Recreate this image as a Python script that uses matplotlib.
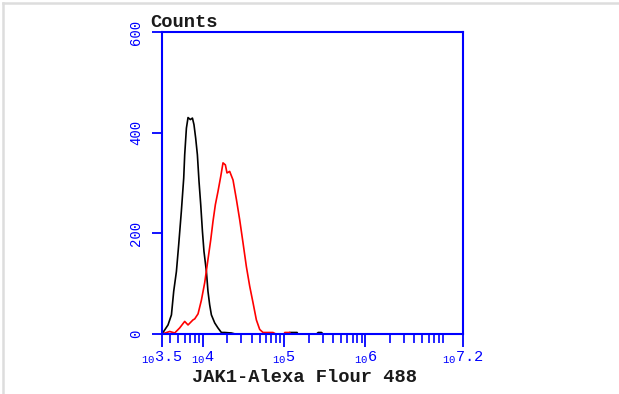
import matplotlib
matplotlib.use("Agg")
import matplotlib.pyplot as plt
from matplotlib.ticker import FixedLocator, NullFormatter
import numpy as np

plt.rcParams['font.family'] = ['Liberation Mono', 'DejaVu Sans Mono']
plt.rcParams['mathtext.fontset'] = 'custom'
plt.rcParams['mathtext.rm'] = 'Liberation Mono'
plt.rcParams['mathtext.it'] = 'Liberation Mono'
plt.rcParams['mathtext.bf'] = 'Liberation Mono:bold'

# log10 fluorescence intensity and counts
control_log = [3.50, 3.574, 3.616, 3.644, 3.677, 3.705, 3.738, 3.767, 3.779, 3.800,
               3.820, 3.849, 3.874, 3.893, 3.914, 3.935, 3.955, 3.976, 3.997, 4.016,
               4.046, 4.065, 4.086, 4.107, 4.148, 4.188, 4.230, 4.271, 4.353, 4.40,
               5.00, 5.06, 5.07, 5.16, 5.17, 5.40, 5.42, 5.46, 5.48, 7.2]
control_cnt = [0, 18, 38, 85, 124, 177, 244, 310, 356, 409,
               430, 426, 429, 416, 389, 356, 303, 257, 204, 164,
               124, 85, 58, 38, 22, 12, 3, 3, 2, 0,
               0, 0, 3, 3, 0, 0, 3, 3, 0, 0]

jak1_log = [3.50, 3.595, 3.656, 3.717, 3.779, 3.820, 3.881, 3.902, 3.943, 3.984,
            4.025, 4.065, 4.099, 4.127, 4.156, 4.188, 4.222, 4.250, 4.279, 4.299,
            4.332, 4.373, 4.415, 4.455, 4.496, 4.537, 4.578, 4.619, 4.660, 4.701,
            4.742, 4.864, 4.90, 5.00, 5.01, 5.07, 5.08, 7.2]
jak1_cnt = [0, 5, 2, 12, 25, 18, 28, 30, 40, 67,
            102, 148, 187, 224, 257, 283, 313, 340, 336, 320,
            323, 306, 267, 227, 181, 134, 95, 62, 28, 9,
            3, 3, 0, 0, 3, 3, 0, 0]

x_major = [3.5, 4, 5, 6, 7.2]
x_major_labels = ['3.5', '4', '5', '6', '7.2']
y_ticks = [0, 200, 400, 600]

blue = '#0000ff'
text_col = '#1a1a1a'

fig = plt.figure(figsize=(6.19, 3.94), dpi=100)
ax = fig.add_axes([162/619, 60/394, 301/619, 302/394])

ax.plot(10**np.array(control_log), control_cnt, color='black', lw=1.2, zorder=2)
ax.plot(10**np.array(jak1_log), jak1_cnt, color='red', lw=1.2, zorder=2.1)

ax.set_xscale('log')
ax.set_xlim(10**3.5, 10**7.2)
ax.set_ylim(0, 600)

for s in ax.spines.values():
    s.set_color(blue)
    s.set_linewidth(1.5)
    s.set_zorder(3)

ax.xaxis.set_major_locator(FixedLocator([10**v for v in x_major]))
ax.set_xticklabels([r'$\mathrm{{}_{10}%s}$' % l for l in x_major_labels])
minor = []
for dec in range(3, 7):
    for m in range(2, 10):
        v = m * 10**dec
        if 10**3.5 < v < 10**7.2:
            minor.append(v)
ax.xaxis.set_minor_locator(FixedLocator(minor))
ax.xaxis.set_minor_formatter(NullFormatter())

ax.set_yticks(y_ticks)
ax.set_yticklabels([str(v) for v in y_ticks], rotation=90, va='center')

ax.tick_params(axis='x', which='major', direction='out', length=9, width=1.3,
               colors=blue, labelsize=11, pad=2)
ax.tick_params(axis='x', which='minor', direction='out', length=6.5, width=1.2,
               colors=blue)
ax.tick_params(axis='y', which='major', direction='out', length=7.5, width=1.3,
               colors=blue, labelsize=10, pad=6)

fig.text(150/619, 1 - 27/394, 'Counts', fontsize=13.5, color=text_col,
         ha='left', va='baseline', fontweight='bold')
fig.text(305/619, 1 - 382/394, 'JAK1-Alexa Flour 488', fontsize=13.5,
         color=text_col, ha='center', va='baseline', fontweight='bold')

# light grey frame at top and left
fig.add_artist(plt.Line2D([3/619, 3/619], [0, 1 - 3/394], transform=fig.transFigure,
                          color='#dddddd', lw=1.8))
fig.add_artist(plt.Line2D([3/619, 1], [1 - 3/394, 1 - 3/394], transform=fig.transFigure,
                          color='#dddddd', lw=1.8))

fig.savefig('out.png', dpi=100)
